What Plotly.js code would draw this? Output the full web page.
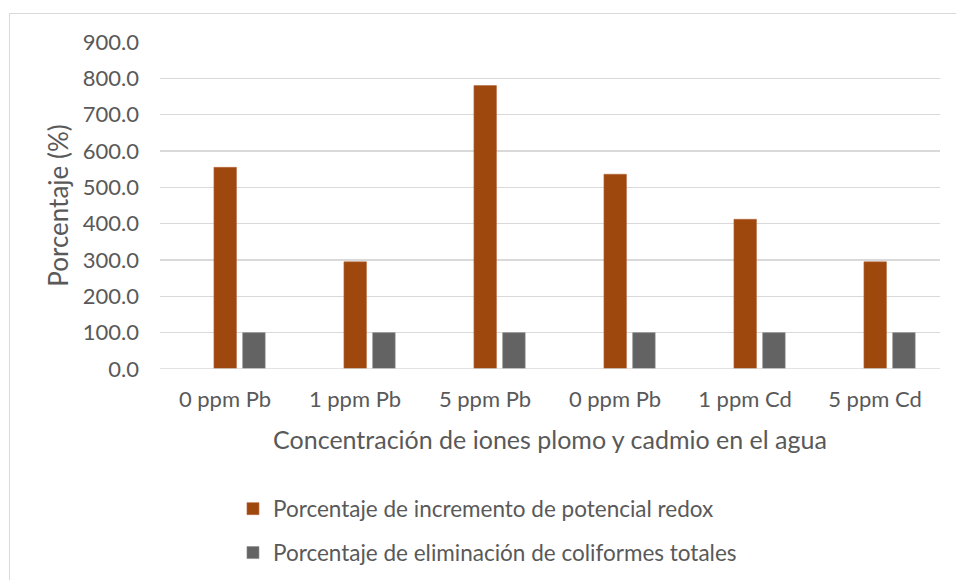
<!DOCTYPE html>
<html><head><meta charset="utf-8">
<script src="https://cdn.plot.ly/plotly-3.0.1.min.js"></script>
<style>
html,body{margin:0;padding:0;background:#fff;}
#frame{position:absolute;left:9px;top:13px;width:960px;height:580px;border:1px solid #d9d9d9;box-sizing:border-box;}
#chart{position:absolute;left:0;top:0;width:956px;height:580px;}
</style></head>
<body>
<div id="frame"></div>
<div id="chart"></div>
<script>
const categories = ["0 ppm Pb","1 ppm Pb","5 ppm Pb","0 ppm Pb","1 ppm Cd","5 ppm Cd"];
const redox = [555, 295, 780, 536, 412, 295];
const coliformes = [100, 100, 100, 100, 100, 100];
const seriesNames = ["Porcentaje de incremento de potencial redox","Porcentaje de eliminación de coliformes totales"];

const idx = categories.map((_, i) => i);
const font = "Lato, 'Open Sans', sans-serif";
const txt = "#595959";

const traces = [
  {type:"bar", x: idx, y: redox, name: seriesNames[0], marker:{color:"#9E480E", line:{color:"#b5663a", width:0.6}}, width:0.173, offset:-0.085, legend:"legend"},
  {type:"bar", x: idx, y: coliformes, name: seriesNames[1], marker:{color:"#636363", line:{color:"#8a8a8a", width:0.6}}, width:0.173, offset:0.136, legend:"legend2"}
];

const layout = {
  width:956, height:580,
  margin:{l:160, r:16, t:42, b:211, autoexpand:false},
  paper_bgcolor:"rgba(0,0,0,0)", plot_bgcolor:"rgba(0,0,0,0)",
  font:{family:font, color:txt, size:22},
  showlegend:true,
  xaxis:{
    range:[-0.5, 5.5], tickvals: idx, ticktext: categories, automargin:false,
    showgrid:false, zeroline:false, showline:false, ticks:"", ticklabelstandoff:15,
    tickfont:{size:22, color:txt},
    title:{text:"Concentración de iones plomo y cadmio en el agua", font:{size:25, color:txt}, standoff:20}
  },
  yaxis:{
    range:[0, 900], dtick:100, tick0:0, tickformat:".1f", automargin:false,
    showgrid:true, gridcolor:"#d9d9d9", gridwidth:1.3, zeroline:false, showline:false,
    ticks:"", ticklabelstandoff:20,
    tickfont:{size:22, color:txt},
    title:{text:"Porcentaje (%)", font:{size:26, color:txt}, standoff:6}
  },
  legend:{xref:"container", yref:"container", x:0.2437, y:0.1224, xanchor:"left", yanchor:"middle", orientation:"h", bgcolor:"rgba(0,0,0,0)", font:{size:22.5, color:txt}},
  legend2:{xref:"container", yref:"container", x:0.2437, y:0.0466, xanchor:"left", yanchor:"middle", orientation:"h", bgcolor:"rgba(0,0,0,0)", font:{size:22.5, color:txt}},
  shapes:[{type:"line", xref:"paper", yref:"y", x0:0, x1:1, y0:0, y1:0, line:{color:"#d9d9d9", width:1.3}}]
};

Plotly.newPlot("chart", traces, layout, {displayModeBar:false, staticPlot:true});
</script>
</body></html>
